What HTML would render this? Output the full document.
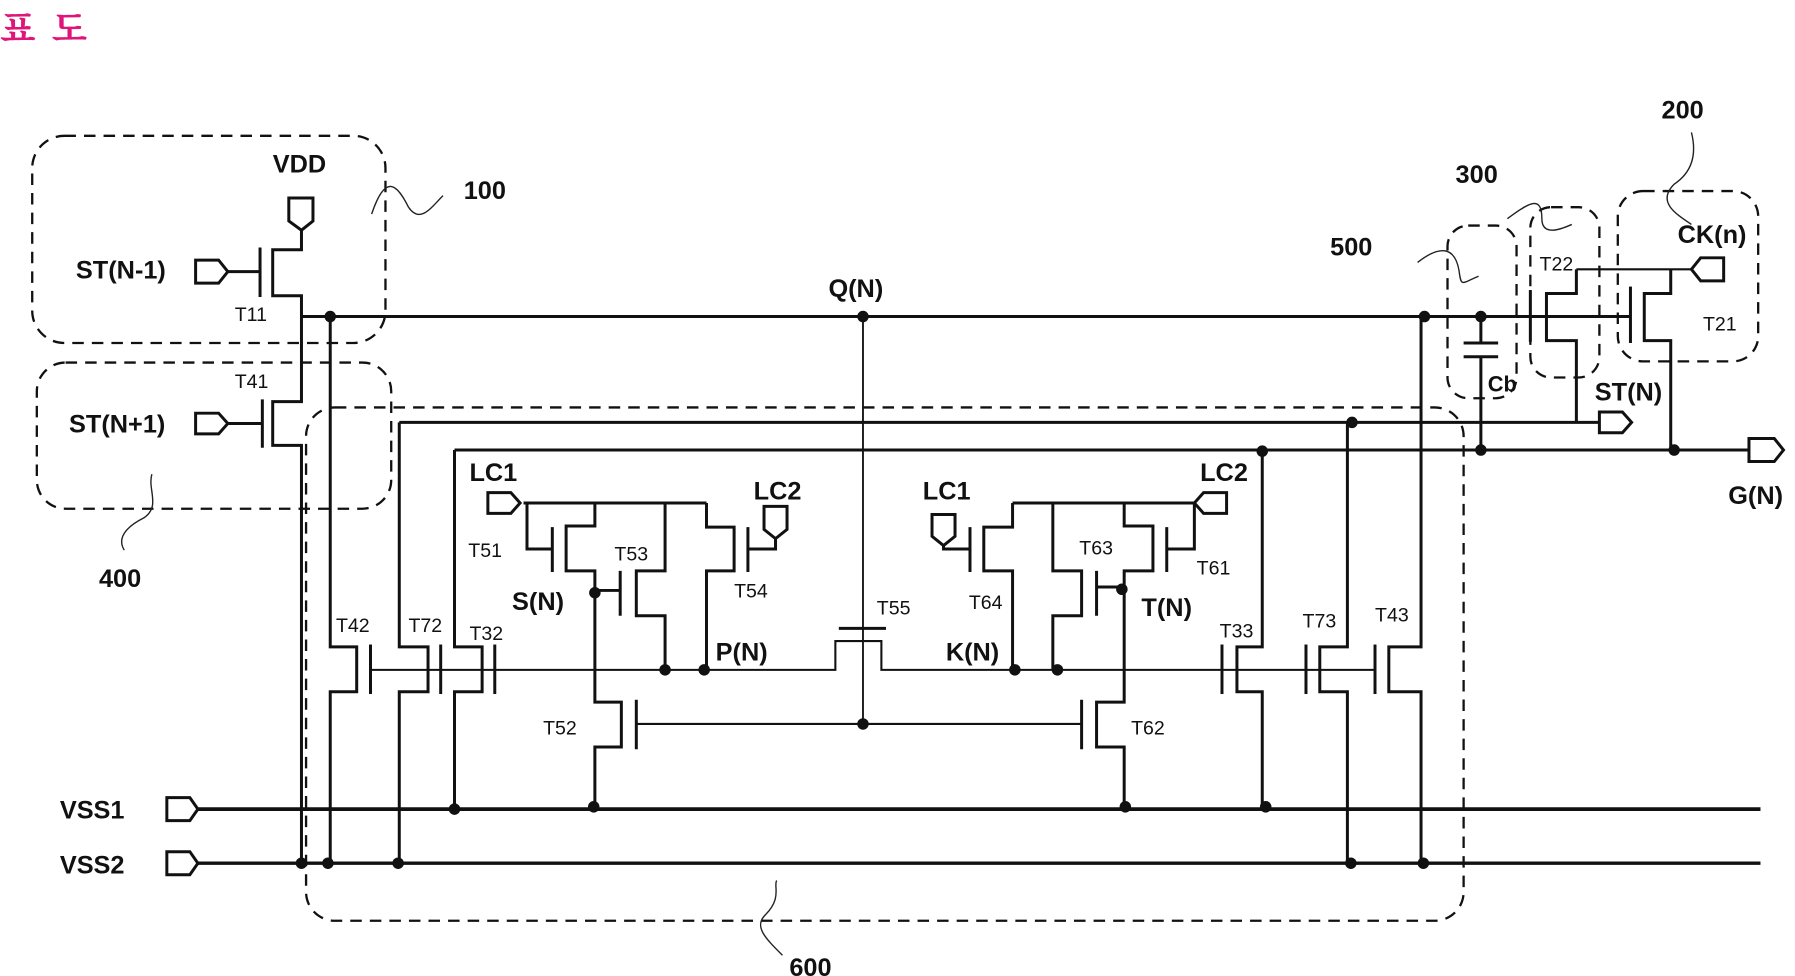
<!DOCTYPE html>
<html><head><meta charset="utf-8"><style>
html,body{margin:0;padding:0;background:#fff;}
svg{display:block;}
text{font-family:"Liberation Sans","Noto Sans CJK KR",sans-serif;fill:#111;}
.b{font-weight:bold;font-size:22px;}
.t{font-size:17px;}
</style></head><body>
<svg width="1795" height="976" viewBox="0 0 1560 848" preserveAspectRatio="none" xmlns="http://www.w3.org/2000/svg">
<text x="0" y="36" style="font-family:'Noto Serif CJK SC','Noto Sans CJK KR',serif;font-size:32px;font-weight:bold;fill:#e0157a;letter-spacing:14px">표도</text>

<g fill="none" stroke="#111" stroke-width="2" stroke-dasharray="10 7">
<rect x="28" y="118" width="307" height="180" rx="28"/>
<rect x="32" y="315" width="308" height="127" rx="25"/>
<rect x="266" y="354" width="1006" height="446" rx="25"/>
<rect x="1258" y="196" width="60" height="150" rx="18"/>
<rect x="1330" y="180" width="60" height="148" rx="18"/>
<rect x="1406" y="166" width="122" height="148" rx="22"/>
</g>
<g fill="none" stroke="#222" stroke-width="1.2">
<path d="M323 186 C335 150,345 160,355 180 C365 195,375 180,385 170"/>
<path d="M108 478 C100 465,115 455,125 450 C140 440,128 425,132 412"/>
<path d="M680 830 C665 815,655 805,665 795 C680 780,672 770,675 765"/>
<path d="M1232 228 C1255 210,1265 218,1268 235 C1270 250,1270 246,1285 240"/>
<path d="M1310 190 C1330 175,1340 170,1340 190 C1340 205,1355 200,1366 195"/>
<path d="M1470 115 C1475 135,1470 150,1455 160 C1440 175,1455 185,1470 195"/>
</g>

<g fill="none" stroke="#111" stroke-width="2.6">
<path d="M262 275 H1417"/>
<path d="M262 200 V217 H237 V257 H262 V275"/>
<path d="M226 215 V258 M198 236 H226"/>
<path d="M262 275 V349 H237 V387 H262 V750"/>
<path d="M228 347 V389 M198 368 H228"/>
<path d="M287 275 V562 H310 V601 H287 V750"/>
<path d="M322 560 V603"/>
<path d="M347 367 V562 H372 V601 H347 V750"/>
<path d="M383 560 V603"/>
<path d="M395 391 V562 H419 V601 H395 V703"/>
<path d="M430 560 V603"/>
<path d="M347 367 H1390"/>
<path d="M395 391 H1520"/>
<path d="M172 703 H1530" stroke-width="3.2"/>
<path d="M172 750 H1530" stroke-width="3"/>
<path d="M455 437 H614"/>
<path d="M458 437 V477 H480"/>
<path d="M480 458 V497"/>
<path d="M517 437 V457 H492 V496 H517 V610 H540 V649 H517 V703"/>
<path d="M517 513 H539 M539 496 V535"/>
<path d="M578 437 V496 H553 V535 H578 V582"/>
<path d="M614 437 V458 H638 V496 H614 V582"/>
<path d="M650 458 V497 M650 477 H674 V468"/>
<path d="M553 608 V651"/>
<path d="M322 582 H726 V557 H766 V582 H1195" stroke-width="1.8"/>
<path d="M729 546 H770"/>
<path d="M750 275 V629" stroke-width="1.6"/>
<path d="M553 629 H940" stroke-width="1.8"/>
<path d="M880 437 H1038"/>
<path d="M820 472 V477 H843 M843 458 V497"/>
<path d="M880 437 V458 H855 V496 H880 V582"/>
<path d="M915 437 V496 H940 V535 H915 V582"/>
<path d="M953 496 V535 M953 510 H975"/>
<path d="M977 437 V457 H1002 V496 H977 V610 H953 V649 H977 V703"/>
<path d="M1014 458 V497 M1014 477 H1038 V437"/>
<path d="M940 608 V651"/>
<path d="M1097 391 V562 H1075 V601 H1097 V703"/>
<path d="M1062 560 V603"/>
<path d="M1171 367 V562 H1147 V601 H1171 V750"/>
<path d="M1135 560 V603"/>
<path d="M1235 275 V562 H1207 V601 H1235 V750"/>
<path d="M1195 560 V603"/>
<path d="M1287 275 V298 M1272 298 H1302 M1272 310 H1302 M1287 310 V391"/>
<path d="M1330 252 V297"/>
<path d="M1370 234 V255 H1344 V296 H1370 V367"/>
<path d="M1370 234 H1470" stroke-width="1.8"/>
<path d="M1417 249 V298"/>
<path d="M1452 234 V255 H1429 V296 H1452 V391"/>
</g>

<g fill="#fff" stroke="#111" stroke-width="2.6">
<path d="M251 172 H272 V192 L262 200 L251 192 Z"/>
<path d="M170 226 H190 L198 236 L190 246 H170 Z"/>
<path d="M170 359 H190 L198 368 L190 377 H170 Z"/>
<path d="M145 693 H165 L172 703 L165 713 H145 Z"/>
<path d="M145 740 H165 L172 750 L165 760 H145 Z"/>
<path d="M424 428 H444 L452 437 L444 446 H424 Z"/>
<path d="M664 440 H684 V460 L674 468 L664 460 Z"/>
<path d="M810 447 H830 V466 L820 474 L810 466 Z"/>
<path d="M1038 437 L1046 428 H1066 V446 H1046 Z"/>
<path d="M1390 358 H1410 L1418 367 L1410 376 H1390 Z"/>
<path d="M1520 381 H1542 L1550 391 L1542 401 H1520 Z"/>
<path d="M1470 234 L1478 224 H1498 V244 H1478 Z"/>
</g>

<g fill="#111">
<circle cx="287" cy="275" r="5"/><circle cx="750" cy="275" r="5"/><circle cx="1238" cy="275" r="5"/><circle cx="1287" cy="275" r="5"/>
<circle cx="1175" cy="367" r="5"/><circle cx="1097" cy="392" r="5"/><circle cx="1287" cy="391" r="5"/><circle cx="1455" cy="391" r="5"/>
<circle cx="517" cy="515" r="5"/><circle cx="578" cy="582" r="5"/><circle cx="612" cy="582" r="5"/><circle cx="882" cy="582" r="5"/><circle cx="919" cy="582" r="5"/><circle cx="975" cy="512" r="5"/>
<circle cx="750" cy="629" r="5"/>
<circle cx="262" cy="750" r="5"/><circle cx="285" cy="750" r="5"/><circle cx="346" cy="750" r="5"/><circle cx="395" cy="703" r="5"/><circle cx="516" cy="701" r="5"/><circle cx="978" cy="701" r="5"/><circle cx="1100" cy="701" r="5"/><circle cx="1174" cy="750" r="5"/><circle cx="1237" cy="750" r="5"/>
</g>

<text class="b" x="237" y="150">VDD</text>
<text class="b" x="403" y="173">100</text>
<text class="b" x="66" y="242">ST(N-1)</text>
<text class="b" x="60" y="376">ST(N+1)</text>
<text class="b" x="86" y="510">400</text>
<text class="b" x="720" y="258">Q(N)</text>
<text class="b" x="1444" y="103">200</text>
<text class="b" x="1265" y="159">300</text>
<text class="b" x="1156" y="222">500</text>
<text class="b" x="1458" y="211">CK(n)</text>
<text class="b" x="1386" y="348">ST(N)</text>
<text class="b" x="1502" y="438">G(N)</text>
<text class="b" x="408" y="418">LC1</text>
<text class="b" x="655" y="434">LC2</text>
<text class="b" x="802" y="434">LC1</text>
<text class="b" x="1043" y="418">LC2</text>
<text class="b" x="445" y="530">S(N)</text>
<text class="b" x="622" y="574">P(N)</text>
<text class="b" x="822" y="574">K(N)</text>
<text class="b" x="992" y="535">T(N)</text>
<text class="b" x="52" y="711">VSS1</text>
<text class="b" x="52" y="759">VSS2</text>
<text class="b" x="686" y="848">600</text>
<text class="b" x="1293" y="340" style="font-size:19px">Cb</text>
<text class="t" x="204" y="279">T11</text>
<text class="t" x="204" y="337">T41</text>
<text class="t" x="292" y="549">T42</text>
<text class="t" x="355" y="549">T72</text>
<text class="t" x="408" y="556">T32</text>
<text class="t" x="407" y="484">T51</text>
<text class="t" x="534" y="487">T53</text>
<text class="t" x="638" y="519">T54</text>
<text class="t" x="762" y="534">T55</text>
<text class="t" x="472" y="638">T52</text>
<text class="t" x="842" y="529">T64</text>
<text class="t" x="938" y="482">T63</text>
<text class="t" x="1040" y="499">T61</text>
<text class="t" x="983" y="638">T62</text>
<text class="t" x="1060" y="554">T33</text>
<text class="t" x="1132" y="545">T73</text>
<text class="t" x="1195" y="540">T43</text>
<text class="t" x="1338" y="235">T22</text>
<text class="t" x="1480" y="287">T21</text>
</svg>
</body></html>
